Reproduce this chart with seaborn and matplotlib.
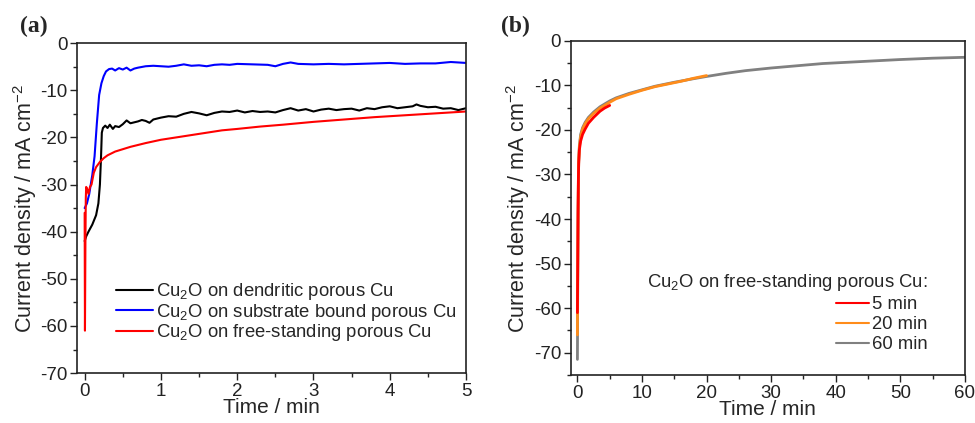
import numpy as np
import pandas as pd
import matplotlib
matplotlib.use('Agg')
import matplotlib.pyplot as plt
from matplotlib.ticker import MultipleLocator
import seaborn as sns

# ---- panel (a) data: time (min), current density (mA cm-2)
t_dend = [0.00, 0.02, 0.05, 0.1, 0.15, 0.18, 0.2, 0.215, 0.225, 0.24, 0.27, 0.3, 0.33, 0.37, 0.4,
          0.45, 0.5, 0.55, 0.6, 0.65, 0.7, 0.75, 0.8, 0.85, 0.9, 1.0, 1.1, 1.2, 1.3, 1.4, 1.5,
          1.6, 1.7, 1.8, 1.9, 2.0, 2.1, 2.2, 2.3, 2.4, 2.5, 2.6, 2.7, 2.8, 2.9, 3.0, 3.1, 3.2,
          3.3, 3.4, 3.5, 3.6, 3.7, 3.8, 3.9, 4.0, 4.1, 4.2, 4.3, 4.35, 4.4, 4.5, 4.6, 4.7, 4.8,
          4.9, 5.0]
j_dend = [-42, -41, -40, -38.5, -36.5, -34, -30, -24, -19, -18, -17.5, -18, -17.3, -18.2, -17.6,
          -17.8, -17.2, -16.4, -17, -16.8, -16.6, -16.3, -16.5, -16.9, -16.2, -15.8, -15.5, -15.6,
          -15, -14.6, -14.9, -15.3, -14.8, -14.5, -14.6, -14.3, -14.7, -14.4, -14.6, -14.5, -14.7,
          -14.2, -13.8, -14.3, -14.0, -14.5, -14.1, -13.9, -14.2, -14.0, -13.9, -14.3, -13.8,
          -14.0, -13.6, -13.4, -13.8, -13.6, -13.4, -13.0, -13.3, -13.6, -13.5, -13.9, -13.8,
          -14.2, -13.8]

t_bound = [0, 0.03, 0.06, 0.1, 0.13, 0.16, 0.19, 0.22, 0.25, 0.28, 0.32, 0.36, 0.4, 0.45, 0.5,
           0.55, 0.6, 0.65, 0.7, 0.8, 0.9, 1.0, 1.1, 1.2, 1.3, 1.4, 1.5, 1.6, 1.7, 1.8, 1.9,
           2.0, 2.2, 2.4, 2.5, 2.6, 2.7, 2.8, 3.0, 3.2, 3.4, 3.6, 3.8, 4.0, 4.2, 4.4, 4.6, 4.8, 5.0]
j_bound = [-35, -34, -32, -28, -24, -17, -11, -8.5, -7, -6, -5.5, -5.4, -5.8, -5.3, -5.6,
           -5.2, -5.8, -5.4, -5.2, -4.9, -4.8, -4.9, -5.0, -4.8, -4.5, -4.8, -4.7, -4.9, -4.6,
           -4.5, -4.6, -4.4, -4.5, -4.6, -4.9, -4.4, -4.1, -4.4, -4.5, -4.4, -4.5, -4.4, -4.3,
           -4.2, -4.4, -4.3, -4.3, -4.0, -4.2]

t_free = [0, 0.004, 0.01, 0.015, 0.02, 0.035, 0.05, 0.07, 0.09, 0.12, 0.15, 0.2, 0.25, 0.3,
          0.4, 0.5, 0.6, 0.8, 1.0, 1.2, 1.4, 1.6, 1.8, 2.0, 2.3, 2.6, 3.0, 3.4, 3.8, 4.2, 4.6, 5.0]
j_free = [-36, -61, -42, -33, -30.5, -31, -32, -30.5, -30, -27.5, -26.3, -25.2, -24.4, -23.8,
          -23, -22.5, -22, -21.2, -20.5, -20, -19.5, -19, -18.5, -18.2, -17.7, -17.3, -16.7,
          -16.2, -15.7, -15.3, -14.9, -14.5]

labels_a = ['Cu$_2$O on dendritic porous Cu',
            'Cu$_2$O on substrate bound porous Cu',
            'Cu$_2$O on free-standing porous Cu']

# ---- panel (b) data
t_60 = [0, 0.05, 0.1, 0.15, 0.2, 0.3, 0.5, 0.8, 1.2, 1.7, 2.5, 3.5, 5, 6, 8, 10, 12, 15, 18,
        20, 23, 26, 30, 34, 38, 42, 46, 50, 55, 60]
j_60 = [-71.5, -55, -40, -32, -27, -23.5, -21, -19.5, -18.3, -17.2, -16, -14.8, -13.5, -12.8,
        -11.8, -11, -10.2, -9.3, -8.5, -8, -7.3, -6.7, -6.1, -5.6, -5.1, -4.8, -4.5, -4.2,
        -3.9, -3.7]
t_20 = [0, 0.05, 0.1, 0.15, 0.2, 0.3, 0.5, 0.8, 1.2, 1.7, 2.5, 3.5, 5, 6, 8, 10, 12, 14, 16,
        18, 20]
j_20 = [-66, -52, -39, -31, -27, -24, -21.5, -19.8, -18.6, -17.5, -16.3, -15.1, -13.8, -13,
        -12, -11.1, -10.3, -9.7, -9.1, -8.4, -7.8]
t_5 = [0, 0.05, 0.1, 0.15, 0.2, 0.3, 0.5, 0.8, 1.2, 1.7, 2.5, 3.5, 4.2, 5]
j_5 = [-61, -50, -38, -31, -27.5, -24.5, -22.5, -21, -19.8, -18.5, -17.2, -15.8, -15.1, -14.5]

labels_b = ['5 min', '20 min', '60 min']
legend_title_b = 'Cu$_2$O on free-standing porous Cu:'

sns.set_style('ticks')
plt.rcParams['font.family'] = ['Liberation Sans', 'DejaVu Sans']
plt.rcParams['mathtext.fontset'] = 'custom'
plt.rcParams['mathtext.rm'] = 'Liberation Sans'
plt.rcParams['mathtext.it'] = 'Liberation Sans'
plt.rcParams['axes.unicode_minus'] = False

fig = plt.figure(figsize=(9.75, 4.23), dpi=100)
ax1 = fig.add_axes([0.079, 0.118, 0.399, 0.780])
ax2 = fig.add_axes([0.5856, 0.1135, 0.404, 0.790])

# panel (a)
sns.lineplot(x=t_dend, y=j_dend, ax=ax1, color='black', lw=1.5, label=labels_a[0], sort=False)
sns.lineplot(x=t_bound, y=j_bound, ax=ax1, color='#0000ff', lw=1.5, label=labels_a[1], sort=False)
sns.lineplot(x=t_free, y=j_free, ax=ax1, color='#ff0000', lw=1.5, label=labels_a[2], sort=False)
ax1.set_xlim(-0.1, 5)
ax1.set_ylim(-70, 0)
ax1.xaxis.set_major_locator(MultipleLocator(1))
ax1.xaxis.set_minor_locator(MultipleLocator(0.5))
ax1.legend(loc='lower left', bbox_to_anchor=(0.1, 0.09), frameon=False, fontsize=13.3,
           handlelength=2.0, handletextpad=0.16, labelspacing=-0.03, borderpad=0,
           borderaxespad=0)

# panel (b)
sns.lineplot(x=t_60, y=j_60, ax=ax2, color='#808080', lw=2, label=labels_b[2], sort=False)
sns.lineplot(x=t_20, y=j_20, ax=ax2, color='#ff8c1a', lw=2, label=labels_b[1], sort=False)
sns.lineplot(x=t_5, y=j_5, ax=ax2, color='#ff0000', lw=2, label=labels_b[0], sort=False)
ax2.set_xlim(-1, 60)
ax2.set_ylim(-75, 0)
ax2.xaxis.set_major_locator(MultipleLocator(10))
ax2.xaxis.set_minor_locator(MultipleLocator(5))
h, l = ax2.get_legend_handles_labels()
leg = ax2.legend(h[::-1], l[::-1], title=legend_title_b, loc='lower right',
                 bbox_to_anchor=(0.906, 0.065), frameon=False, fontsize=13.3,
                 title_fontsize=13.3, handlelength=1.75, handletextpad=0.2,
                 labelspacing=0.17, borderpad=0, borderaxespad=0, alignment='right')
for line in leg.get_lines():
    line.set_linewidth(1.5)

for ax in (ax1, ax2):
    ax.yaxis.set_major_locator(MultipleLocator(10))
    ax.yaxis.set_minor_locator(MultipleLocator(5))
    ax.tick_params(which='major', direction='out', length=5, width=1, labelsize=13.5,
                   colors='#222222', labelcolor='#222222', pad=2)
    ax.tick_params(which='minor', direction='out', length=3, width=1, colors='#222222')
    for s in ax.spines.values():
        s.set_visible(True)
        s.set_linewidth(1.2)
        s.set_color('#222222')
    ax.set_xlabel('Time / min', fontsize=15, labelpad=-1)
    ax.set_ylabel('Current density / mA cm$^{-2}$', fontsize=15.5, labelpad=1)

fig.text(0.021, 0.925, '(a)', fontsize=17, fontweight='bold', family='Liberation Serif')
fig.text(0.514, 0.925, '(b)', fontsize=17, fontweight='bold', family='Liberation Serif')

fig.savefig('out.png', dpi=100)
